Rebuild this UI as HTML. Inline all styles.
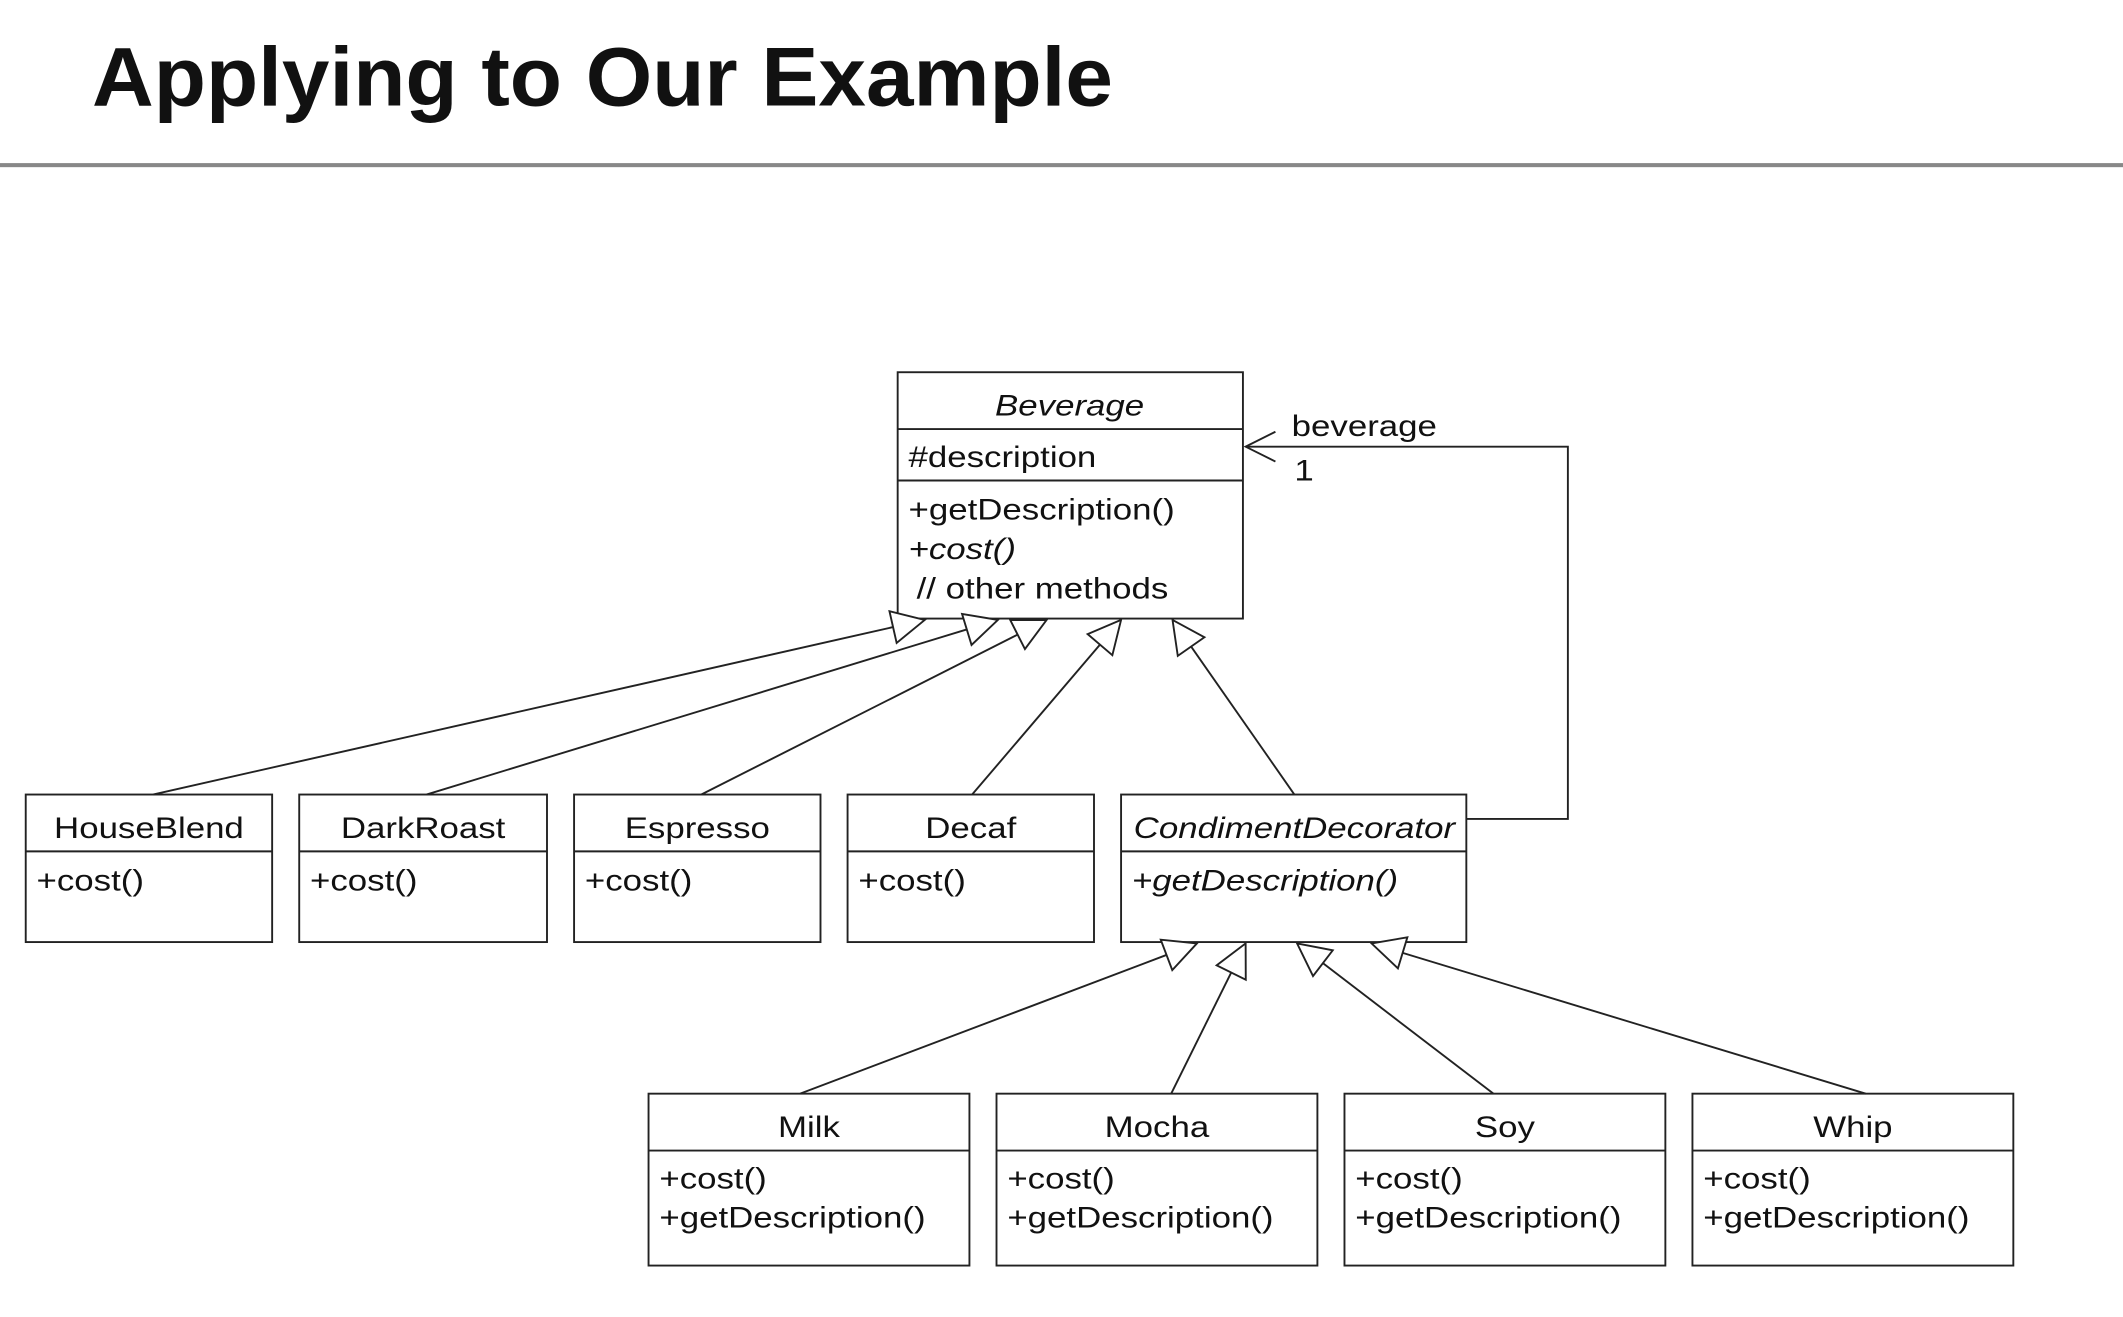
<!DOCTYPE html>
<html><head><meta charset="utf-8"><style>
html,body{margin:0;padding:0;background:#fff;width:2123px;height:1317px;overflow:hidden}
svg{display:block}
text{font-family:"Liberation Sans",Arial,sans-serif;fill:#111}
</style></head><body>
<svg id="s" width="2123" height="1317" viewBox="0 0 1568 973" preserveAspectRatio="none" xmlns="http://www.w3.org/2000/svg">
<text x="68" y="78" font-size="62" font-weight="bold" fill="#000" textLength="754" lengthAdjust="spacingAndGlyphs">Applying to Our Example</text>
<rect x="0" y="120.5" width="1568" height="3" fill="#888"/>
<g id="g" stroke="#222" stroke-width="1.4" fill="none"></g>
<g id="t" font-size="22"></g>
</svg>
<script>
var NS="http://www.w3.org/2000/svg",g=document.getElementById('g'),t=document.getElementById('t');
function el(p,n,a){var e=document.createElementNS(NS,n);for(var k in a)e.setAttribute(k,a[k]);p.appendChild(e);return e;}
function txt(x,y,s,o){var e=el(t,'text',Object.assign({x:x,y:y},o||{}));e.textContent=s;
 var w=e.getComputedTextLength()*1.17;e.setAttribute('textLength',w);e.setAttribute('lengthAdjust','spacingAndGlyphs');}
function box(x1,y1,x2,y2,divs){el(g,'rect',{x:x1,y:y1,width:x2-x1,height:y2-y1,fill:'#fff'});divs.forEach(function(d){el(g,'line',{x1:x1,y1:d,x2:x2,y2:d});});}
box(663,275,918,457,[317,355]);
txt(790,307,"Beverage",{"text-anchor":"middle","font-style":"italic"});
txt(671,345,"#description");
txt(671,384,"+getDescription()");
txt(671,413,"+cost()",{"font-style":"italic"});
txt(677,442,"// other methods");
var r2=[["HouseBlend",19,201],["DarkRoast",221,404],["Espresso",424,606],["Decaf",626,808]];
r2.forEach(function(b){box(b[1],587,b[2],696,[629]);txt((b[1]+b[2])/2,619,b[0],{"text-anchor":"middle"});txt(b[1]+8,658,"+cost()");});
box(828,587,1083,696,[629]);
txt(956,619,"CondimentDecorator",{"text-anchor":"middle","font-style":"italic"});
txt(836,658,"+getDescription()",{"font-style":"italic"});
[["Milk",479,716],["Mocha",736,973],["Soy",993,1230],["Whip",1250,1487]].forEach(function(b){box(b[1],808,b[2],935,[850]);txt((b[1]+b[2])/2,840,b[0],{"text-anchor":"middle"});txt(b[1]+8,878,"+cost()");txt(b[1]+8,907,"+getDescription()");});
function gen(fx,fy,tx,ty){var dx=tx-fx,dy=ty-fy,l=Math.hypot(dx,dy),ux=dx/l,uy=dy/l,L=24,W=12;var bx=tx-ux*L,by=ty-uy*L;
el(g,'line',{x1:fx,y1:fy,x2:bx,y2:by});
el(g,'polygon',{points:tx+','+ty+' '+(bx-uy*W)+','+(by+ux*W)+' '+(bx+uy*W)+','+(by-ux*W),fill:'#fff'});}
gen(113,587,683,458);gen(315,587,737,458);gen(518,587,773,458);gen(718,587,828,458);gen(956,587,866,458);
gen(591,808,884,697);gen(865,808,920,697);gen(1103,808,958,697);gen(1378,808,1013,697);
el(g,'polyline',{points:'1083,605 1158,605 1158,330 920,330'});
el(g,'polyline',{points:'942,319 920,330 942,341'});
txt(954,322,"beverage");
txt(956,355,"1");
</script>
</body></html>
